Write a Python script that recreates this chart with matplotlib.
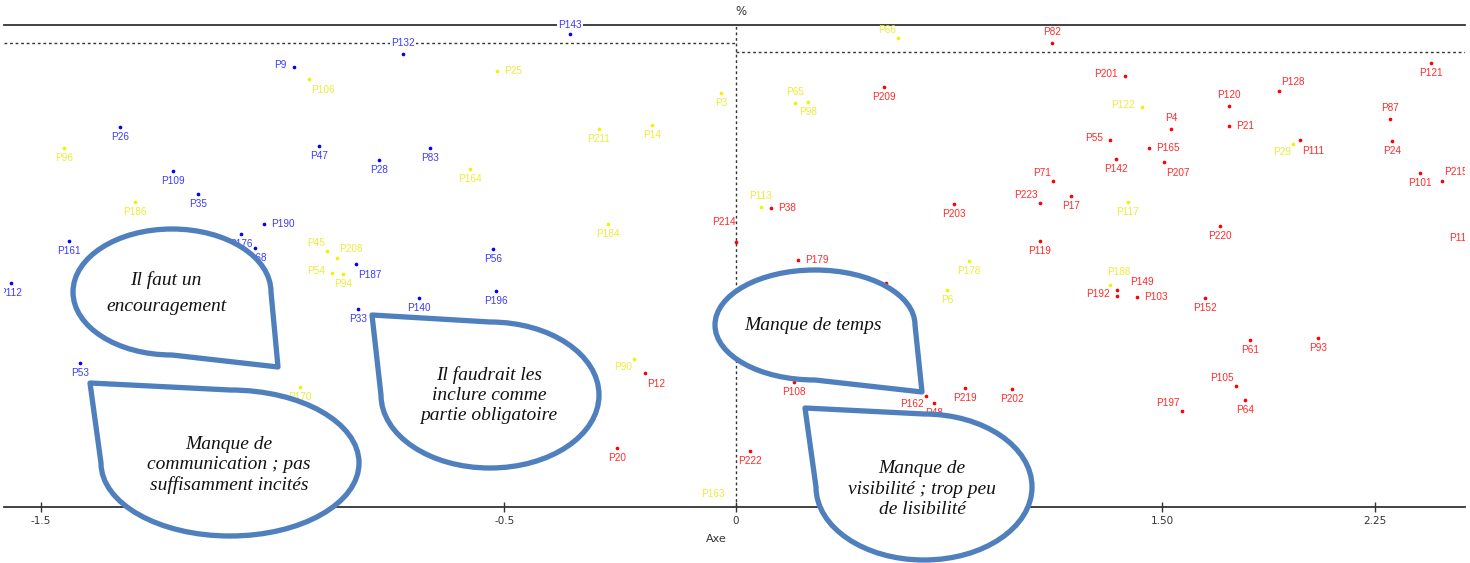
import numpy as np
import matplotlib
matplotlib.use('Agg')
import matplotlib.pyplot as plt
from matplotlib.path import Path
from matplotlib.patches import PathPatch, Rectangle

W, H = 1470, 563

# groupe bleu
blue_names = ['P143', 'P132', 'P9', 'P26', 'P47', 'P109', 'P28', 'P83', 'P35', 'P190',
              'P176', 'P168', 'P161', 'P112', 'P187', 'P56', 'P196', 'P140', 'P33', 'P53']
blue_x = [-0.358, -0.718, -0.954, -1.329, -0.900, -1.215, -0.770, -0.660, -1.161, -1.018,
          -1.068, -1.038, -1.439, -1.564, -0.820, -0.524, -0.518, -0.684, -0.816, -1.415]
blue_y = [98.1, 94.0, 91.3, 78.8, 74.9, 69.7, 72.0, 74.5, 64.9, 58.7,
          56.6, 53.7, 55.2, 46.5, 50.4, 53.5, 44.8, 43.4, 41.1, 29.9]

# groupe jaune
yellow_names = ['P106', 'P96', 'P25', 'P3', 'P211', 'P14', 'P164', 'P186', 'P45', 'P208',
                'P54', 'P94', 'P184', 'P90', 'P170', 'P163', 'P66', 'P65', 'P98', 'P122',
                'P29', 'P113', 'P117', 'P178', 'P6', 'P188']
yellow_x = [-0.921, -1.450, -0.516, -0.032, -0.296, -0.181, -0.574, -1.297, -0.882, -0.861,
            -0.872, -0.848, -0.276, -0.220, -0.941, -0.002, 0.570, 0.208, 0.254, 1.430,
            1.961, 0.088, 1.380, 0.820, 0.743, 1.317]
yellow_y = [88.8, 74.5, 90.5, 85.9, 78.4, 79.3, 70.1, 63.3, 53.1, 51.7,
            48.5, 48.3, 58.7, 30.7, 24.9, -0.8, 97.3, 83.8, 84.0, 83.0,
            75.3, 62.2, 63.3, 51.0, 45.0, 46.1]

# groupe rouge
red_names = ['P82', 'P209', 'P201', 'P121', 'P128', 'P120', 'P87', 'P4', 'P21', 'P55',
             'P165', 'P142', 'P207', 'P111', 'P24', 'P101', 'P215', 'P71', 'P223', 'P17',
             'P203', 'P38', 'P220', 'P118', 'P214', 'P179', 'P80', 'P119', 'P149', 'P192',
             'P103', 'P152', 'P61', 'P93', 'P108', 'P162', 'P48', 'P219', 'P202', 'P197',
             'P105', 'P64', 'P222', 'P12', 'P20']
red_x = [1.113, 0.521, 1.370, 2.447, 1.912, 1.736, 2.303, 1.532, 1.736, 1.317,
         1.454, 1.338, 1.507, 1.986, 2.310, 2.408, 2.486, 1.116, 1.070, 1.180,
         0.768, 0.123, 1.704, 2.582, 0.000, 0.218, 0.528, 1.070, 1.342, 1.342,
         1.412, 1.651, 1.810, 2.049, 0.204, 0.669, 0.697, 0.806, 0.972, 1.570,
         1.761, 1.792, 0.049, -0.196, -0.257]
red_y = [96.3, 87.1, 89.4, 92.1, 86.3, 83.2, 80.5, 78.4, 79.0, 76.1,
         74.5, 72.2, 71.6, 76.1, 75.9, 69.3, 67.6, 67.6, 63.1, 64.5,
         62.9, 62.0, 58.3, 57.9, 55.0, 51.2, 46.5, 55.2, 45.0, 43.8,
         43.6, 43.4, 34.6, 35.1, 25.9, 23.0, 21.6, 24.7, 24.5, 19.9,
         25.1, 22.2, 11.6, 27.8, 12.2]

xticks = [-1.5, -0.5, 0, 1.5, 2.25]
xtick_labels = ['-1.5', '-0.5', '0', '1.50', '2.25']
ref_left, ref_right = 96.3, 94.4

bubbles = ['Il faut un\nencouragement',
           'Manque de\ncommunication ; pas\nsuffisamment incités',
           'Il faudrait les\ninclure comme\npartie obligatoire',
           'Manque de temps',
           'Manque de\nvisibilité ; trop peu\nde lisibilité']

# ou placer les etiquettes (defaut: dessous)
label_pos = {'P143': 'a2', 'P132': 'a', 'P9': 'l', 'P190': 'r', 'P187': 'br',
             'P106': 'br', 'P25': 'r', 'P45': 'al', 'P208': 'ar', 'P54': 'l', 'P90': 'bl',
             'P163': 'ul', 'P66': 'al', 'P65': 'a', 'P122': 'l', 'P29': 'bl', 'P113': 'a',
             'P188': 'au', 'P82': 'a', 'P201': 'l', 'P128': 'ar', 'P120': 'a', 'P87': 'a',
             'P4': 'a', 'P21': 'r', 'P55': 'l', 'P165': 'r', 'P111': 'br', 'P207': 'br',
             'P215': 'ar', 'P71': 'al', 'P223': 'al', 'P38': 'r', 'P214': 'ul2', 'P179': 'r',
             'P149': 'ar2', 'P192': 'l', 'P103': 'r', 'P162': 'bl', 'P197': 'al',
             'P105': 'al', 'P12': 'br', 'P118': 'bw'}
offs = {'b': (0, -10, 'center'), 'a': (0, 11, 'center'), 'a2': (0, 9, 'center'),
        'l': (-7, 2, 'right'), 'r': (7, 0, 'left'), 'al': (-2, 8, 'right'),
        'ar': (2, 9, 'left'), 'ar2': (13, 8, 'left'), 'au': (-3, 13, 'left'),
        'bl': (-2, -8, 'right'), 'br': (2, -11, 'left'), 'ul': (-10, 17, 'right'),
        'ul2': (0, 20, 'right'), 'bw': (-9, -10, 'center')}


def fwd(x):
    x = np.asarray(x, dtype=float)
    return np.where(x < 0, x * 463.5, x * 284.0)


def inv(u):
    u = np.asarray(u, dtype=float)
    return np.where(u < 0, u / 463.5, u / 284.0)


fig = plt.figure(figsize=(W / 100, H / 100), dpi=100)
ax = fig.add_axes([4 / W, (H - 507) / H, 1461 / W, 482 / H])
ax.set_xscale('function', functions=(fwd, inv))
x_left, x_right = -1.579, 2.567
ax.set_xlim(x_left, x_right)
ax.set_ylim(0, 100)

clip = Rectangle((0, -0.3), 1, 1.6, transform=ax.transAxes, visible=False)
ax.add_patch(clip)

groups = [(blue_names, blue_x, blue_y, '#0000ff', '#3b3bff'),
          (yellow_names, yellow_x, yellow_y, '#f2f200', '#ecec3a'),
          (red_names, red_x, red_y, '#ff0000', '#ff2b2b')]
for names, xs, ys, c, lc in groups:
    ax.scatter(xs, ys, s=7, color=c, lw=0, zorder=3)
    for n, x, y in zip(names, xs, ys):
        dx, dy, ha = offs[label_pos.get(n, 'b')]
        bb = dict(fc='white', ec='none', pad=0.6) if n in ('P143', 'P132') else None
        t = ax.annotate(n, (x, y), xytext=(dx * 0.72, dy * 0.72), textcoords='offset points',
                        ha=ha, va='center', fontsize=7.2, color=lc,
                        family='Liberation Sans', bbox=bb, zorder=5,
                        annotation_clip=False)
        t.set_clip_path(clip)

ax.hlines(ref_left, x_left, 0, color='#333333', lw=1, linestyles=(0, (2, 2)), zorder=1)
ax.hlines(ref_right, 0, x_right, color='#333333', lw=1, linestyles=(0, (2, 2)), zorder=1)
ax.axvline(0, color='#333333', lw=1, ls=(0, (2, 2)), zorder=1)

for s in ['left', 'right']:
    ax.spines[s].set_visible(False)
for s in ['top', 'bottom']:
    ax.spines[s].set_color('#333333')
    ax.spines[s].set_linewidth(1.3)
ax.set_yticks([])
ax.set_xticks(xticks)
ax.set_xticklabels(xtick_labels)
ax.xaxis.set_minor_locator(matplotlib.ticker.NullLocator())
ax.tick_params(axis='x', direction='inout', length=7, width=1, color='#333333',
               labelsize=7.5, labelcolor='#333333', pad=3)
ax.set_xlabel('Axe', fontsize=8, color='#333333')
ax.xaxis.set_label_coords((716 - 4) / 1461, -0.056)
ax.text((741 - 4) / 1461, 1.027, '%', transform=ax.transAxes, fontsize=8.5,
        color='#333333', ha='center', va='center')


def teardrop(cx, cy, rx, ry, tail, corner):
    k = 0.5523
    start = {'br': 0, 'tl': 180}[corner]
    cyu = H - cy

    def pt(a):
        a = np.radians(a)
        return cx + rx * np.cos(a), cyu + ry * np.sin(a)

    def tan(a):
        a = np.radians(a)
        return -rx * np.sin(a), ry * np.cos(a)

    p0 = pt(start)
    verts, codes = [p0], [Path.MOVETO]
    for i in range(3):
        a = start + 90 * i
        P0, P3, t0, t3 = pt(a), pt(a + 90), tan(a), tan(a + 90)
        verts += [(P0[0] + k * t0[0], P0[1] + k * t0[1]),
                  (P3[0] - k * t3[0], P3[1] - k * t3[1]), P3]
        codes += [Path.CURVE4] * 3
    verts += [(tail[0], H - tail[1]), p0]
    codes += [Path.LINETO, Path.CLOSEPOLY]
    return Path([(x / W, y / H) for x, y in verts], codes)


shapes = [((172, 292, 99, 63), (278, 367), 'br', (166, 293), 1.75),
          ((230, 463, 129, 73), (90, 383), 'tl', (229, 465), 1.25),
          ((490, 395, 109, 73), (372, 315), 'tl', (489, 395), 1.25),
          ((815, 325, 100, 55), (922, 392), 'br', (813, 326), 1.2),
          ((924, 487, 108, 73), (805, 408), 'tl', (922, 489), 1.25)]
for txt, (ell, tail, corner, tpos, lsp) in zip(bubbles, shapes):
    p = PathPatch(teardrop(*ell, tail, corner), transform=fig.transFigure, fc='white',
                  ec='#4f7fbd', lw=3.8, joinstyle='round', zorder=10)
    fig.add_artist(p)
    fig.text(tpos[0] / W, 1 - tpos[1] / H, txt, ha='center', va='center', fontsize=14,
             family='Liberation Serif', style='italic', color='#111111',
             linespacing=lsp, zorder=11)

fig.savefig('out.png', dpi=100)
